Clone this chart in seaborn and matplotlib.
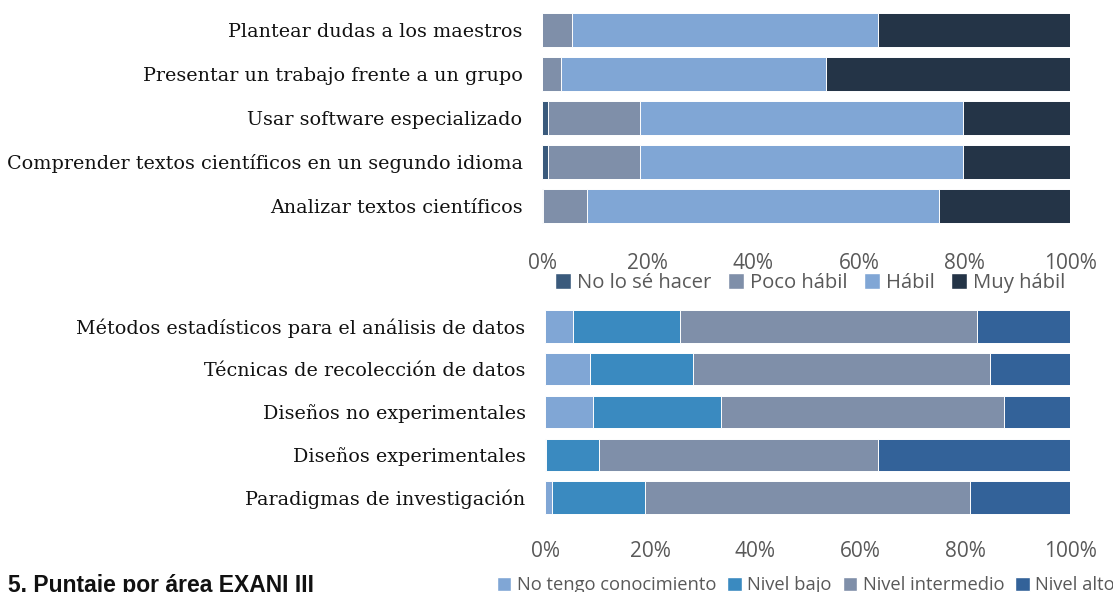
import pandas as pd
import seaborn as sns
import matplotlib.pyplot as plt
from matplotlib.patches import Patch

# top chart data (percent)
skills = ['Plantear dudas a los maestros',
          'Presentar un trabajo frente a un grupo',
          'Usar software especializado',
          'Comprender textos científicos en un segundo idioma',
          'Analizar textos científicos']
skill_levels = ['No lo sé hacer', 'Poco hábil', 'Hábil', 'Muy hábil']
no_lo_se = [0.0, 0.0, 1.2, 1.2, 0.2]
poco_habil = [5.6, 3.5, 17.4, 17.4, 8.3]
habil = [58.0, 50.2, 61.2, 61.2, 66.6]
muy_habil = [36.4, 46.3, 20.2, 20.2, 24.9]
top_colors = ['#3a5a7c', '#7f8fa9', '#80a6d5', '#243447']

# bottom chart data (percent)
topics = ['Métodos estadísticos para el análisis de datos',
          'Técnicas de recolección de datos',
          'Diseños no experimentales',
          'Diseños experimentales',
          'Paradigmas de investigación']
know_levels = ['No tengo conocimiento', 'Nivel bajo', 'Nivel intermedio', 'Nivel alto']
no_tengo = [5.3, 8.6, 9.1, 0.1, 1.3]
nivel_bajo = [20.5, 19.6, 24.4, 10.1, 17.7]
nivel_intermedio = [56.5, 56.6, 53.9, 53.2, 61.9]
nivel_alto = [17.7, 15.2, 12.6, 36.6, 19.1]
bottom_colors = ['#80a6d5', '#3a8ac0', '#7f8fa9', '#336299']

tick_color = '#595959'
sns.set_theme(style='white')


def stacked(ax, cats, series, colors, pad):
    df = pd.DataFrame(dict(zip(range(len(series)), series)))
    df['cat'] = cats
    cum = df[list(range(len(series)))].cumsum(axis=1)
    # draw cumulative totals from the biggest down so each segment shows
    for i in reversed(range(len(series))):
        sns.barplot(x=cum[i], y=df['cat'], color=colors[i], orient='h',
                    width=0.76, edgecolor='white', linewidth=0.7,
                    saturation=1, ax=ax)
    ax.set_xlim(0, 100)
    ax.set_xticks([0, 20, 40, 60, 80, 100])
    ax.set_xticklabels(['0%', '20%', '40%', '60%', '80%', '100%'],
                       family='Open Sans', fontsize=15, color=tick_color)
    ax.set_yticklabels(cats, family='DejaVu Serif', fontsize=13.8, color='#111111')
    ax.tick_params(axis='x', length=0, pad=pad)
    ax.tick_params(axis='y', length=0, pad=14)
    ax.set_xlabel('')
    ax.set_ylabel('')
    sns.despine(ax=ax, left=True, bottom=True)


fig = plt.figure(figsize=(11.13, 5.92), dpi=100)
ax1 = fig.add_axes([0.487, 0.615, 0.4744, 0.3716])
ax2 = fig.add_axes([0.4897, 0.1233, 0.4717, 0.3615])

stacked(ax1, skills, [no_lo_se, poco_habil, habil, muy_habil], top_colors, 18)
stacked(ax2, topics, [no_tengo, nivel_bajo, nivel_intermedio, nivel_alto], bottom_colors, 16)

h1 = [Patch(facecolor=c, label=l) for c, l in zip(top_colors, skill_levels)]
fig.legend(handles=h1, loc='center', bbox_to_anchor=(0.728, 0.522), ncol=4,
           frameon=False, prop={'family': 'Open Sans', 'size': 14.6},
           handlelength=0.8, handleheight=0.8,
           handletextpad=0.3, columnspacing=0.8, labelcolor=tick_color)

h2 = [Patch(facecolor=c, label=l) for c, l in zip(bottom_colors, know_levels)]
fig.legend(handles=h2, loc='center', bbox_to_anchor=(0.724, 0.012), ncol=4,
           frameon=False, prop={'family': 'Open Sans', 'size': 13.2},
           handlelength=0.8, handleheight=0.8, handletextpad=0.3,
           columnspacing=0.6, labelcolor=tick_color)

fig.text(0.007, 0.03, '5. Puntaje por área EXANI III', family='Liberation Sans',
         fontweight='bold', fontsize=16.5, va='top', ha='left', color='#111111')

fig.savefig('out.png', dpi=100)
